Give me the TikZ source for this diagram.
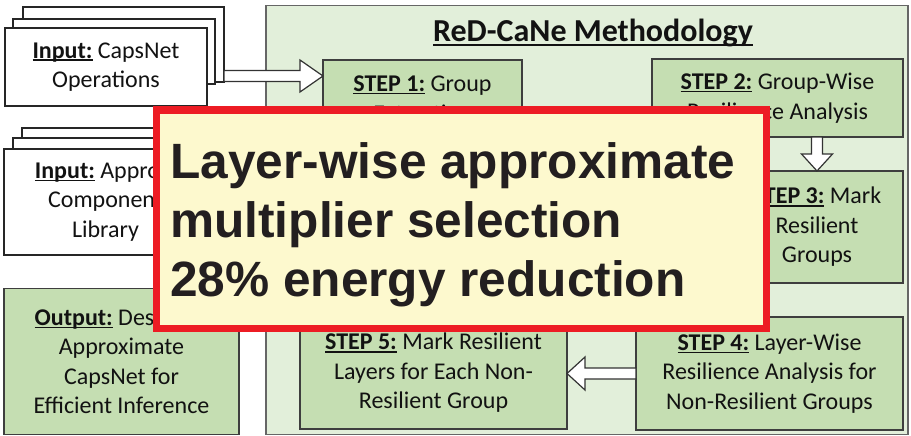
\documentclass[tikz,border=0pt]{standalone}
\usepackage{fontspec}
\setmainfont{Carlito}
\newfontfamily\ovfont{Liberation Sans}
\usetikzlibrary{calc}
\definecolor{stepgreen}{RGB}{197,222,178}
\definecolor{methgreen}{RGB}{226,239,218}
\definecolor{ovyellow}{RGB}{253,249,206}
\definecolor{ovred}{RGB}{237,28,36}
\definecolor{bordergray}{RGB}{62,62,62}
\definecolor{txt}{RGB}{18,18,18}
\newcommand\myul[1]{\setbox0\hbox{#1}\rlap{\rule[-0.12em]{\wd0}{0.065em}}\box0\relax}
\begin{document}
\begin{tikzpicture}[x=1pt,y=-1pt,
  box/.style={draw=bordergray, line width=1.3pt, inner sep=0pt, outer sep=0pt, align=center, text=txt, font=\fontsize{24}{29.5}\selectfont},
  inbox/.style={box, fill=white, draw=black!85},
  stepbox/.style={box, fill=stepgreen},
  methbox/.style={box, fill=methgreen, draw=black!60},
  blockarrow/.style={draw=black!80, fill=white, line width=1.2pt, line join=miter},
  ovbox/.style={draw=ovred, fill=ovyellow, line width=7pt, inner sep=0pt, outer sep=0pt}
]
\useasboundingbox (0,0) rectangle (911,436);
\fill[white] (0,0) rectangle (911,436);

% methodology frame
\node[methbox, minimum width=642, minimum height=429] (meth) at (587,220) {};
\node[anchor=base, text=txt, font=\fontsize{32}{38}\selectfont\bfseries] (title) at (593,42) {\myul{ReD-CaNe Methodology}};

% steps
\node[stepbox, minimum width=199, minimum height=77] (s1) at (422.5,98.5) {\myul{\textbf{STEP 1:}} Group\\Extraction};
\node[stepbox, minimum width=251, minimum height=78] (s2) at (777.5,98) {\myul{\textbf{STEP 2:}} Group-Wise\\Resilience Analysis};
\node[stepbox, minimum width=172, minimum height=112] (s3) at (817,227) {\myul{\textbf{STEP 3:}} Mark\\Resilient\\Groups};
\node[stepbox, minimum width=267, minimum height=113] (s4) at (769.5,373.5) {\myul{\textbf{STEP 4:}} Layer-Wise\\Resilience Analysis for\\Non-Resilient Groups};
\node[stepbox, minimum width=267, minimum height=112] (s5) at (433.5,373) {\myul{\textbf{STEP 5:}} Mark Resilient\\Layers for Each Non-\\Resilient Group};

% arrows inside methodology
\coordinate (d1) at (s3.north |- s2.south);
\draw[blockarrow] let \p1=(d1), \p2=(s3.north) in
  (\x1-5.5pt,\y1) -- (\x1-5.5pt,\y2+17pt) -- (\x1-15.5pt,\y2+17pt) -- (\x1,\y2)
  -- (\x1+15.5pt,\y2+17pt) -- (\x1+5.5pt,\y2+17pt) -- (\x1+5.5pt,\y1) -- cycle;
\draw[blockarrow] let \p1=(s4.west), \p2=(s5.east) in
  (\x1,\y1+5.5pt) -- (\x2+18pt,\y1+5.5pt) -- (\x2+18pt,\y1+16.5pt) -- (\x2,\y1)
  -- (\x2+18pt,\y1-16.5pt) -- (\x2+18pt,\y1-5.5pt) -- (\x1,\y1-5.5pt) -- cycle;

% input 1 stack
\node[inbox, minimum width=201, minimum height=75] (in1a) at (123.5,44.5) {};
\node[inbox, minimum width=202, minimum height=65] (in1b) at (114,51.5) {};
\node[inbox, minimum width=202, minimum height=78] (in1) at (106,67) {\myul{\textbf{Input:}} CapsNet\\Operations};

% input 2 stack
\node[inbox, minimum width=202, minimum height=72] (in2a) at (123,164) {};
\node[inbox, minimum width=202, minimum height=67] (in2b) at (114,171.5) {};
\node[inbox, minimum width=203, minimum height=106] (in2) at (105.5,202) {\myul{\textbf{Input:}} Approx.\\Component\\Library};

% arrow input 1 -> step 1
\coordinate (t1) at ($(s1.north west)+(0,16)$);
\coordinate (a1) at (in1a.east |- t1);
\draw[blockarrow] let \p1=(a1), \p2=(t1) in
  (\x1,\y1+5.5pt) -- (\x2-23pt,\y1+5.5pt) -- (\x2-23pt,\y1+16pt) -- (\x2,\y1)
  -- (\x2-23pt,\y1-16pt) -- (\x2-23pt,\y1-5.5pt) -- (\x1,\y1-5.5pt) -- cycle;

% output
\node[stepbox, minimum width=235, minimum height=146] (out) at (121.5,361.5) {\myul{\textbf{Output:}} Designed\\Approximate\\CapsNet for\\Efficient Inference};

% overlay
\node[ovbox, minimum width=610, minimum height=218] (ov) at (461,219) {};
\node[anchor=base west, inner sep=0pt, text={rgb,255:red,35;green,31;blue,32}, font=\ovfont\bfseries\fontsize{49.6}{59.5}\selectfont] (ovt) at (170,178)
  {\vtop{\hbox{Layer-wise approximate}\hbox{multiplier selection}\hbox{28\% energy reduction}}};
\end{tikzpicture}
\end{document}
